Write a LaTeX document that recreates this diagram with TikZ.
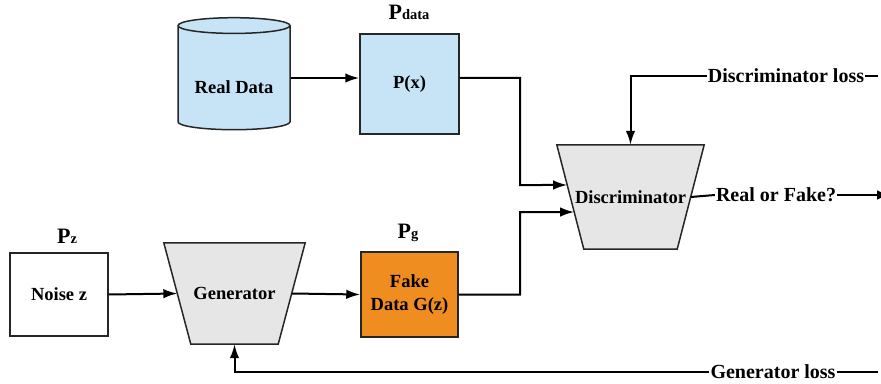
\documentclass[tikz,border=0pt]{standalone}
\usepackage{fontspec}
\setmainfont{Liberation Serif}
\usetikzlibrary{arrows.meta,positioning,shapes.geometric,calc,backgrounds}
\definecolor{realblue}{HTML}{C6E4F6}
\definecolor{fakeorng}{HTML}{F08D21}
\definecolor{netgray}{HTML}{E6E6E6}

\begin{document}
\begin{tikzpicture}[x=1pt, y=-1pt,
        box/.style={draw=black!85, line width=1.5pt, align=center, inner sep=0pt,
                    font=\fontsize{18.5}{23}\selectfont\bfseries},
        net/.style={align=center, inner sep=0pt, font=\fontsize{18.5}{23}\selectfont\bfseries},
        netedge/.style={draw=black!85, line width=1.5pt, fill=netgray, line join=miter},
        arr/.style={-{Latex[length=14pt, width=9.5pt]}, line width=2pt},
        line/.style={line width=2pt},
        lbl/.style={inner sep=1pt, font=\fontsize{20}{22}\selectfont\bfseries},
        dist/.style={inner sep=0pt, font=\bfseries}]
        \useasboundingbox (0,0) rectangle (881,383);
        % upper row
        \node[box, fill=realblue, cylinder, shape border rotate=90, aspect=0.2,
              minimum width=112pt, minimum height=112pt] (real) at (234,78) {\vphantom{A}\\[-4pt]Real Data};
        \node[box, fill=realblue, minimum width=99pt, minimum height=100pt] (px) at (409.5,84) {P(x)};
        \node[dist] (pdata) at (409,12) {\fontsize{22}{24}\selectfont P\fontsize{14.5}{16}\selectfont data};
        % lower row
        \node[box, fill=white, minimum width=98pt, minimum height=83pt] (noise) at (59,294.5) {Noise z};
        \node[dist] (pz) at (67,236) {\fontsize{22}{24}\selectfont P\fontsize{14.5}{16}\selectfont z};
        \node[net, minimum width=141pt, minimum height=101pt] (gen) at (234.5,293.5) {Generator};
        \node[box, fill=fakeorng, minimum width=97pt, minimum height=85pt] (fake) at (409.5,294.5) {Fake\\Data G(z)};
        \node[dist] (pg) at (408,233) {\fontsize{22}{24}\selectfont P\fontsize{14.5}{16}\selectfont g};
        \node[net, minimum width=147pt, minimum height=104pt] (disc) at (630.5,197) {Discriminator};
        % trapezoid outlines behind the two networks
        \begin{pgfonlayer}{background}
          \path[netedge] (gen.north west) -- (gen.north east) -- ([xshift=-27pt]gen.south east)
                -- ([xshift=27pt]gen.south west) -- cycle;
          \path[netedge] (disc.north west) -- (disc.north east) -- ([xshift=-27pt]disc.south east)
                -- ([xshift=27pt]disc.south west) -- cycle;
        \end{pgfonlayer}
        % losses and output
        \node[lbl] (dloss) at (786,76) {Discriminator loss};
        \node[lbl] (rof) at (776,195) {Real or Fake?};
        \node[lbl] (gloss) at (773,372) {Generator loss};
        \coordinate (dinA) at ($(disc.north west)!0.385!([xshift=27pt]disc.south west)$);
        \coordinate (dinB) at ($(disc.north west)!0.644!([xshift=27pt]disc.south west)$);
        \coordinate (jtop) at (520,185);
        \coordinate (jbot) at (520,212);
        \coordinate (dlend) at (878,76);
        \coordinate (glend) at (878,372);
        \coordinate (rofend) at (891,195);
        % connectors
        \draw[arr] (real.east) -- (real.east -| px.west);
        \draw[arr] (real.east -| px.east) -| (jtop) -- (dinA);
        \draw[arr] (fake.east) -| (jbot) -- (dinB);
        \draw[arr] (noise.east) -- ([xshift=13.5pt]gen.west);
        \draw[arr] ([xshift=-13.5pt]gen.east) -- (fake.west);
        \draw[arr] (dloss.west) -| (disc.north);
        \draw[line] (dloss.east) -- (dlend);
        \draw[line] ([xshift=-13.5pt]disc.east) -- (rof.west);
        \draw[arr] (rof.east) -- (rofend);
        \draw[arr] (gloss.west) -| (gen.south);
        \draw[line] (gloss.east) -- (glend);
\end{tikzpicture}
\end{document}
